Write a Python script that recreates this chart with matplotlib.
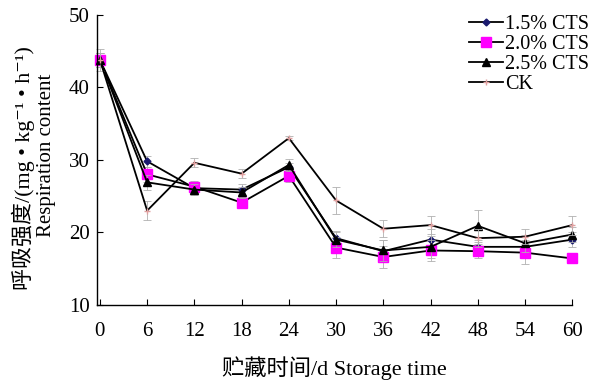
import matplotlib
matplotlib.use("Agg")
import matplotlib.pyplot as plt

days = [0, 6, 12, 18, 24, 30, 36, 42, 48, 54, 60]
cts15 = [43.8, 29.8, 26.1, 25.9, 29.0, 19.2, 17.4, 19.0, 18.0, 18.0, 19.0]
cts20 = [43.8, 28.0, 26.3, 24.1, 27.8, 17.9, 16.6, 17.5, 17.4, 17.2, 16.4]
cts25 = [43.8, 26.9, 25.9, 25.5, 29.3, 19.0, 17.5, 18.0, 20.9, 18.5, 19.7]
ck    = [43.8, 23.0, 29.6, 28.1, 33.0, 24.4, 20.5, 21.0, 19.2, 19.4, 21.0]
err15 = [1.0, 0.8, 0.8, 0.8, 0.5, 1.0, 1.5, 1.5, 1.0, 1.0, 1.0]
err20 = [1.0, 1.0, 0.8, 0.8, 0.8, 1.5, 1.5, 1.5, 1.0, 1.5, 0.6]
err25 = [1.0, 1.0, 0.8, 0.8, 0.8, 1.0, 1.5, 1.5, 2.2, 1.2, 1.0]
errck = [1.5, 1.3, 0.6, 0.6, 0.3, 1.8, 1.2, 1.2, 1.2, 1.0, 1.3]

labels = ["1.5% CTS", "2.0% CTS", "2.5% CTS", "CK"]
yticks = [10, 20, 30, 40, 50]

fam = ["Liberation Serif", "Noto Sans CJK SC", "DejaVu Serif"]
plt.rcParams["font.family"] = fam

fig = plt.figure(figsize=(5.9, 3.82), dpi=100)
ax = fig.add_axes([0.164, 0.202, 0.806, 0.759])

series = [
    (cts15, err15, dict(marker="D", ms=3.5, mfc="#1a1a6e", mec="#1a1a6e")),
    (cts20, err20, dict(marker="s", ms=6.5, mfc="#ff00ff", mec="#ff00ff")),
    (cts25, err25, dict(marker="^", ms=5.5, mfc="black", mec="black")),
    (ck, errck, dict(marker="+", ms=5, mfc="#e0a0a0", mec="#e0a0a0")),
]
handles = []
for (vals, err, style), lab in zip(series, labels):
    ax.errorbar(days, vals, yerr=err, fmt="none", ecolor="#b0b0b0",
                elinewidth=0.6, capsize=3, capthick=0.6, clip_on=False)
    ln, = ax.plot(days, vals, color="black", lw=1.3, clip_on=False, **style)
    handles.append(ln)

ax.set_xlim(-0.4, 60)
ax.set_ylim(10, 50)
ax.set_xticks(days)
ax.set_yticks(yticks)
ax.tick_params(direction="in", labelsize=15, length=4, width=0.8)
ax.tick_params(axis="x", pad=12)
ax.tick_params(axis="y", pad=5)
for s in ["top", "right"]:
    ax.spines[s].set_visible(False)
for s in ["left", "bottom"]:
    ax.spines[s].set_linewidth(1.0)

ax.set_xlabel("贮藏时间/d Storage time", fontsize=16, labelpad=11)
fig.text(0.040, 0.56, "呼吸强度/(mg • kg⁻¹ • h⁻¹)", rotation=90, fontsize=15.8,
         ha="center", va="center")
fig.text(0.078, 0.594, "Respiration content", rotation=90, fontsize=15,
         ha="center", va="center")

leg = ax.legend(handles, labels, loc="upper right", bbox_to_anchor=(1.065, 1.05),
                frameon=False, fontsize=14.5, handlelength=1.7, handletextpad=0.1,
                labelspacing=0.05, borderpad=0.2)

fig.savefig("out.png", dpi=100)
